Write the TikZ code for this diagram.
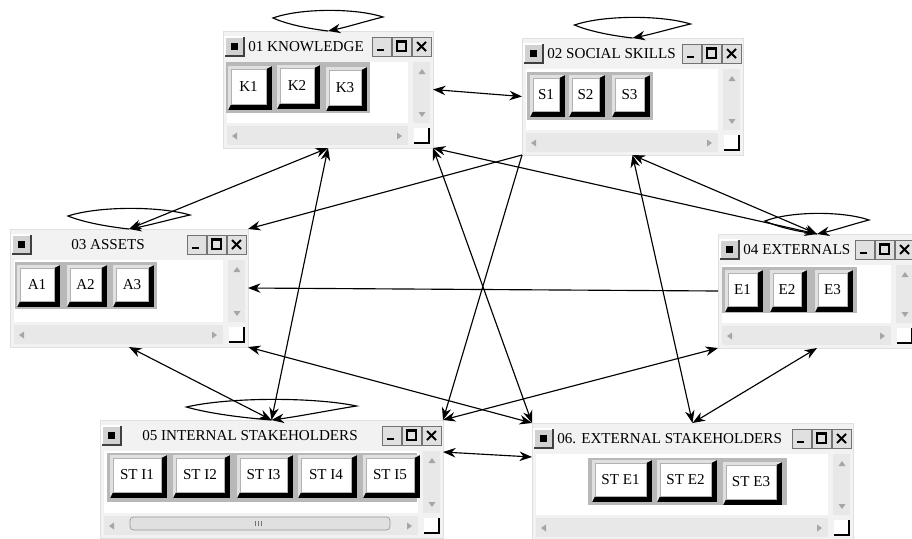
\documentclass[tikz,border=0pt]{standalone}
\usepackage{fontspec}
\setmainfont{Liberation Serif}
\usetikzlibrary{arrows.meta,calc}

% window: name, left, top, width, height, title x, title anchor, title
\newcommand\win[8]{%
  \node[frame,minimum width=#4*0.02cm,minimum height=#5*0.02cm,
        anchor=north west] (#1) at (#2,#3) {};
  \begin{scope}[shift={(#1.north west)}]
    \fill[black!18] (2,6) rectangle (21,25);
    \draw[white,line width=.8pt] (2,25) -- (2,6) -- (21,6);
    \draw[black!75,line width=.8pt] (2,25) -- (21,25) -- (21,6);
    \fill[black] (8,12) rectangle (15,19);
    \foreach \bx in {#4-61,#4-41,#4-21}
      \filldraw[fill=black!12,draw=black!55] (\bx,6) rectangle ++(19,19);
    \draw[line width=1.6pt] (#4-56,19) -- (#4-49,19);
    \draw[line width=.7pt] (#4-36,10) rectangle (#4-27,20);
    \draw[line width=1.5pt] (#4-36,10.5) -- (#4-27,10.5);
    \draw[line width=1.1pt] (#4-16,11) -- (#4-7,20) (#4-16,20) -- (#4-7,11);
    \node[title,anchor=#7] (#1t) at (#6,16) {#8};
    \fill[white] (4,31) rectangle (#4-25,#5-25);
    \fill[bar] (#4-20,31) rectangle (#4-3,#5-25);
    \fill[bar] (4,#5-22) rectangle (#4-25,#5-3);
    \fill[arrowgrey] (#4-11,38) -- ++(-3.5,5) -- ++(7,0) -- cycle;
    \fill[arrowgrey] (#4-11,#5-31) -- ++(-3.5,-5) -- ++(7,0) -- cycle;
    \fill[arrowgrey] (9,#5-12) -- ++(5,-3.5) -- ++(0,7) -- cycle;
    \fill[arrowgrey] (#4-31,#5-12) -- ++(-5,-3.5) -- ++(0,7) -- cycle;
    \fill[white] (#4-19,#5-20) rectangle (#4-4,#5-5);
    \draw[line width=.8pt] (#4-4,#5-20) -- (#4-4,#5-5) -- (#4-19,#5-5);
  \end{scope}}

% raised button: name, x0, y0, x1, y1, label
\newcommand\btn[6]{%
  \fill[black] (#2,#3) rectangle (#4,#5);
  \fill[black!12] (#2,#3) -- (#4,#3) -- (#4-6,#3+3) -- (#2+3,#3+3)
    -- (#2+3,#5-6) -- (#2,#5) -- cycle;
  \filldraw[fill=white,draw=black!30] (#2+3,#3+3) rectangle (#4-6,#5-6);
  \node[lbl] (#1) at ({(#2+#4-3)/2},{(#3+#5-3)/2}) {#6};}

% loop above a window: name, half width
\newcommand\selfloop[2]{%
  \begin{scope}[shift={(#1.north)}]
    \draw[loopline] (#1.north) .. controls (-0.45*#2,-3) and (-0.8*#2,-8) .. (-#2,-13)
      .. controls (-0.5*#2,-23) and (0.5*#2,-23) .. (#2,-14)
      .. controls (0.7*#2,-10) and (0.35*#2,-4) .. (#1.north);
  \end{scope}}

\begin{document}
\begin{tikzpicture}[
  x=0.02cm,y=-0.02cm,
  >={Stealth[length=2.5mm,width=1.9mm]},
  every node/.style={font=\fontsize{8.6}{10}\selectfont},
  frame/.style={draw=black!12,fill=black!5,inner sep=0pt,outer sep=0pt},
  bar/.style={fill=black!9},
  arrowgrey/.style={fill=black!35},
  panel/.style={fill=black!28},
  title/.style={inner sep=0pt},
  lbl/.style={inner sep=0pt},
  both/.style={<->,line width=.65pt},
  oneway/.style={->,line width=.65pt},
  loopline/.style={->,line width=.65pt}
]
\clip (0,0) rectangle (912,538);

\win{w1}{223}{31}{210}{117}{25}{west}{01 KNOWLEDGE}
\fill[panel] (226,62) rectangle (370,113);
\btn{k1}{228}{66}{272}{110}{K1}
\btn{k2}{277}{65}{320}{109}{K2}
\btn{k3}{326}{67}{367}{111}{K3}

\win{w2}{522}{38}{221}{117}{25}{west}{02 SOCIAL SKILLS}
\fill[panel] (527,72) rectangle (653,120);
\btn{s1}{530}{75}{565}{117}{S1}
\btn{s2}{569}{75}{605}{117}{S2}
\btn{s3}{612}{75}{650}{117}{S3}

\win{w3}{10}{229}{238}{118}{98}{center}{03 ASSETS}
\fill[panel] (15,262) rectangle (157,309);
\btn{a1}{17}{265}{60}{307}{A1}
\btn{a2}{67}{265}{107}{307}{A2}
\btn{a3}{113}{265}{154}{307}{A3}

\win{w4}{718}{234}{198}{114}{25}{west}{04 EXTERNALS}
\fill[panel] (722,267) rectangle (857,313);
\btn{e1}{725}{270}{763}{312}{E1}
\btn{e2}{770}{270}{807}{312}{E2}
\btn{e3}{815}{270}{853}{312}{E3}

\win{w5}{100}{420}{343}{118}{150}{center}{05 INTERNAL STAKEHOLDERS}
\fill[panel] (107,453) rectangle (417,502);
\btn{si1}{110}{455}{167}{498}{ST I1}
\btn{si2}{173}{455}{230}{498}{ST I2}
\btn{si3}{237}{455}{293}{498}{ST I3}
\btn{si4}{298}{455}{357}{498}{ST I4}
\btn{si5}{363}{455}{420}{498}{ST I5}
\filldraw[fill=black!12,draw=black!40,rounded corners=2pt] (130,517) rectangle (390,530);
\draw[black!55] (255,521) -- (255,526) (258,521) -- (258,526) (261,521) -- (261,526);

\win{w6}{532}{423}{321}{117}{25}{west}{06. EXTERNAL STAKEHOLDERS}
\fill[panel] (588,458) rectangle (787,505);
\btn{se1}{592}{460}{652}{502}{ST E1}
\btn{se2}{657}{460}{717}{502}{ST E2}
\btn{se3}{723}{462}{782}{505}{ST E3}

\selfloop{w1}{55}
\selfloop{w2}{58}
\selfloop{w3}{61}
\selfloop{w4}{52}
\selfloop{w5}{85}

\draw[both] (w1.east) -- (w2.west);
\draw[both] (w1.south) -- (w3.north);
\draw[both] (w1.south) -- (w5.north);
\draw[both] (w1.south east) -- (w4.north);
\draw[both] (w1.south east) -- (w6.north west);
\draw[oneway] (w2.south west) -- (w3.north east);
\draw[oneway] (w2.south west) -- (w5.north east);
\draw[both] (w2.south) -- (w6.north);
\draw[both] (w2.south) -- (w4.north);
\draw[oneway] (w4.west) -- (w3.east);
\draw[both] (w3.south east) -- (w6.north west);
\draw[both] (w3.south) -- (w5.north);
\draw[both] (w4.south west) -- (w5.north east);
\draw[both] (w4.south) -- (w6.north);
\draw[both] ($(w5.north east)+(0,32)$) -- ($(w6.north west)+(0,34)$);
\end{tikzpicture}
\end{document}
